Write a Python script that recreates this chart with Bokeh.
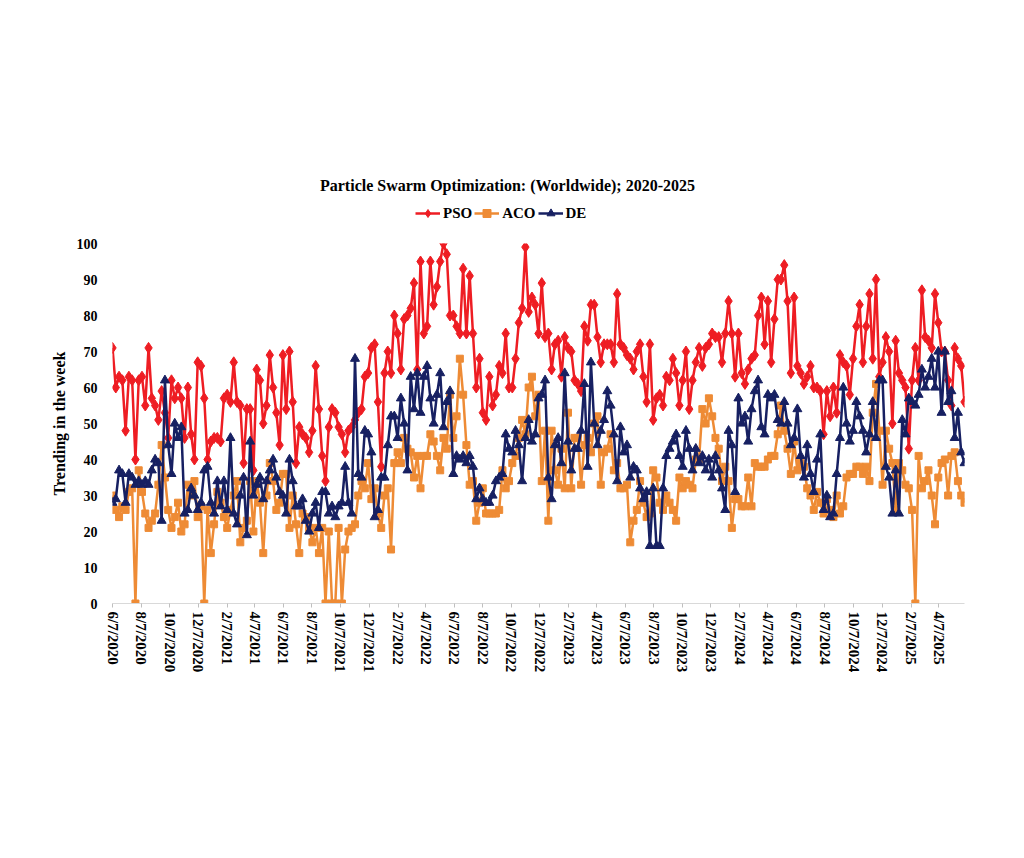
import pandas as pd
from bokeh.plotting import figure
from bokeh.layouts import column
from bokeh.models import (ColumnDataSource, Range1d, FixedTicker, CustomJSTickFormatter,
                          Legend, LegendItem, Label)
from bokeh.embed import file_html
from bokeh.resources import INLINE

# Weekly search-interest index (0-100), first week 6/7/2020
pso = [71, 60, 63, 62, 48, 63, 62, 40, 62, 63,
       55, 71, 57, 55, 51, 59, 53, 46, 62, 57,
       60, 57, 46, 60, 47, 40, 67, 66, 57, 40,
       45, 46, 46, 45, 57, 58, 56, 67, 56, 55,
       39, 54, 54, 37, 65, 62, 50, 55, 69, 60,
       53, 44, 69, 54, 70, 56, 39, 49, 47, 46,
       42, 48, 66, 54, 41, 34, 49, 54, 53, 49,
       47, 42, 48, 49, 51, 53, 54, 63, 64, 71,
       72, 56, 38, 64, 70, 64, 80, 75, 65, 79,
       80, 82, 89, 65, 95, 75, 77, 95, 83, 88,
       95, 100, 97, 80, 80, 77, 75, 93, 75, 91,
       75, 60, 68, 53, 51, 63, 55, 58, 66, 64,
       75, 60, 60, 68, 78, 82, 99, 81, 85, 83,
       75, 89, 74, 75, 65, 72, 73, 63, 74, 71,
       70, 62, 61, 59, 77, 73, 83, 83, 74, 67,
       72, 72, 72, 67, 86, 72, 71, 69, 68, 65,
       70, 72, 63, 56, 72, 51, 57, 58, 55, 63,
       62, 68, 64, 55, 62, 70, 54, 62, 67, 71,
       66, 71, 72, 75, 74, 74, 67, 75, 84, 75,
       63, 75, 64, 61, 65, 68, 69, 80, 85, 72,
       84, 67, 79, 90, 90, 94, 84, 64, 85, 66,
       64, 61, 63, 66, 60, 60, 59, 47, 59, 52,
       60, 53, 69, 67, 66, 58, 68, 77, 83, 67,
       77, 86, 68, 90, 63, 67, 74, 70, 50, 73,
       64, 62, 60, 43, 62, 71, 62, 87, 74, 73,
       71, 86, 78, 70, 70, 62, 55, 71, 68, 66,
       56]

aco = [30, 26, 24, 27, 26, 31, 32, 0, 37, 31,
       25, 21, 23, 25, 33, 44, 35, 26, 21, 24,
       28, 20, 22, 33, 30, 34, 24, 27, 0, 26,
       14, 22, 31, 28, 24, 21, 26, 30, 34, 17,
       21, 23, 34, 20, 34, 28, 14, 30, 39, 34,
       26, 28, 36, 36, 21, 30, 22, 14, 25, 24,
       21, 17, 21, 14, 21, 0, 20, 0, 0, 21,
       0, 15, 20, 21, 22, 30, 34, 32, 39, 29,
       32, 25, 21, 30, 32, 15, 39, 42, 39, 46,
       43, 42, 35, 41, 32, 41, 41, 47, 45, 41,
       37, 46, 43, 58, 46, 52, 68, 58, 44, 33,
       34, 23, 28, 32, 25, 25, 25, 25, 26, 37,
       32, 34, 39, 41, 46, 51, 47, 60, 63, 52,
       58, 34, 48, 23, 48, 37, 33, 43, 32, 53,
       32, 46, 46, 33, 44, 46, 42, 50, 52, 33,
       42, 43, 47, 37, 39, 32, 32, 33, 17, 23,
       26, 34, 28, 24, 25, 37, 35, 28, 26, 30,
       28, 26, 23, 35, 32, 34, 33, 32, 40, 40,
       54, 50, 57, 52, 46, 43, 34, 38, 34, 21,
       29, 29, 27, 27, 35, 27, 39, 38, 38, 38,
       40, 41, 41, 47, 55, 48, 43, 36, 45, 37,
       39, 38, 32, 30, 26, 31, 28, 25, 29, 26,
       24, 30, 25, 27, 35, 36, 36, 38, 38, 36,
       38, 34, 53, 61, 48, 33, 48, 43, 39, 26,
       39, 37, 33, 32, 26, 0, 41, 32, 34, 37,
       30, 22, 35, 39, 40, 30, 41, 42, 34, 30,
       28]

de = [28, 29, 37, 36, 28, 36, 35, 33, 34, 33,
      34, 33, 37, 40, 39, 23, 62, 44, 36, 50,
      46, 49, 25, 26, 32, 30, 26, 28, 37, 38,
      28, 25, 34, 27, 34, 26, 46, 25, 22, 30,
      35, 19, 45, 30, 33, 35, 29, 34, 37, 40,
      35, 31, 30, 25, 40, 34, 27, 27, 29, 23,
      20, 25, 28, 21, 31, 31, 25, 27, 24, 27,
      28, 38, 28, 25, 68, 36, 35, 48, 47, 42,
      24, 26, 35, 35, 44, 52, 52, 46, 57, 50,
      37, 63, 54, 64, 53, 63, 66, 57, 50, 58,
      64, 49, 56, 59, 36, 41, 40, 41, 39, 41,
      38, 29, 32, 29, 28, 28, 30, 34, 35, 36,
      47, 43, 42, 48, 44, 34, 46, 51, 45, 47,
      57, 58, 62, 35, 29, 44, 46, 39, 64, 45,
      37, 43, 43, 48, 61, 38, 67, 50, 44, 48,
      51, 59, 55, 47, 34, 49, 42, 44, 35, 38,
      37, 32, 29, 31, 16, 32, 16, 16, 32, 41,
      43, 45, 47, 41, 38, 48, 43, 37, 43, 39,
      41, 37, 40, 35, 41, 37, 32, 26, 48, 44,
      31, 57, 50, 52, 45, 54, 59, 62, 49, 47,
      58, 57, 58, 51, 50, 56, 50, 44, 46, 54,
      41, 35, 44, 36, 31, 40, 47, 26, 30, 24,
      25, 36, 46, 60, 50, 45, 48, 56, 52, 48,
      42, 47, 56, 46, 62, 62, 38, 35, 25, 37,
      25, 51, 47, 57, 56, 55, 58, 65, 60, 63,
      68, 60, 70, 53, 70, 56, 59, 46, 53, 42,
      39]

tick_labels = ["6/7/2020", "8/7/2020", "10/7/2020", "12/7/2020",
               "2/7/2021", "4/7/2021", "6/7/2021", "8/7/2021", "10/7/2021", "12/7/2021",
               "2/7/2022", "4/7/2022", "6/7/2022", "8/7/2022", "10/7/2022", "12/7/2022",
               "2/7/2023", "4/7/2023", "6/7/2023", "8/7/2023", "10/7/2023", "12/7/2023",
               "2/7/2024", "4/7/2024", "6/7/2024", "8/7/2024", "10/7/2024", "12/7/2024",
               "2/7/2025", "4/7/2025"]

series_names = ["PSO", "ACO", "DE"]
y_ticks = list(range(0, 101, 10))

RED = "#EE1D23"
ORANGE = "#EE8B35"
NAVY = "#172062"
SERIF = "Liberation Serif"
styles = [("pso", RED, "diamond", 11), ("aco", ORANGE, "square", 7), ("de", NAVY, "triangle", 9)]

W = 1024
FRAME_L, FRAME_R = 112, 964   # plot-area edges shared by both strips
HEAD_H = 233                  # header strip holding the title and the legend
PLOT_H = 858 - HEAD_H

weeks = pd.date_range("2020-06-07", periods=len(pso), freq="7D")
tick_ms = [int(pd.to_datetime(s, format="%m/%d/%Y").value // 10**6) for s in tick_labels]

src = ColumnDataSource(dict(week=weeks, pso=pso, aco=aco, de=de))

# ---- header: title + legend; its axes are in page pixels ----
head = figure(width=W, height=HEAD_H, x_range=Range1d(FRAME_L, FRAME_R), y_range=Range1d(0, HEAD_H),
              x_axis_location=None, y_axis_location=None,
              output_backend="svg", toolbar_location=None, min_border=0,
              min_border_left=FRAME_L, min_border_right=W - FRAME_R)
head.outline_line_color = None
head.grid.visible = False
head.background_fill_color = "white"
head.border_fill_color = "white"

head.add_layout(Label(x=507, y=HEAD_H - 185,
                      text="Particle Swarm Optimization: (Worldwide); 2020-2025",
                      text_align="center", text_baseline="middle",
                      text_font=SERIF, text_font_style="bold", text_font_size="16px",
                      text_color="black"))

# legend keys reuse the weekly series; their dates lie outside this strip's pixel range
items = []
for name, (col, color, marker, size) in zip(series_names, styles):
    key_line = head.line("week", col, source=src, line_color=color, line_width=2.5)
    key_mark = head.scatter("week", col, source=src, marker=marker, size=size,
                            fill_color=color, line_color=color)
    items.append(LegendItem(label=name, renderers=[key_line, key_mark]))

legend = Legend(items=items, orientation="horizontal",
                location=(415 - FRAME_L, HEAD_H - 223),
                glyph_width=25, glyph_height=20, label_standoff=3, spacing=2,
                padding=0, margin=0, border_line_color=None, background_fill_alpha=0,
                label_text_font=SERIF, label_text_font_style="bold",
                label_text_font_size="15px", label_text_color="black")
head.add_layout(legend)

# ---- main chart ----
p = figure(width=W, height=PLOT_H, x_axis_type="datetime",
           x_range=Range1d(weeks[0], weeks[-1]), y_range=Range1d(0, 100),
           output_backend="svg", toolbar_location=None,
           min_border_left=FRAME_L, min_border_right=W - FRAME_R,
           min_border_top=243 - HEAD_H, min_border_bottom=255)
p.outline_line_color = None
p.background_fill_color = "white"
p.border_fill_color = "white"
p.xgrid.visible = False
p.ygrid.visible = False

# value axis
p.yaxis.ticker = FixedTicker(ticks=y_ticks)
p.yaxis.axis_line_color = None
p.yaxis.major_tick_line_color = None
p.yaxis.minor_tick_line_color = None
p.yaxis.major_label_text_font = SERIF
p.yaxis.major_label_text_font_style = "bold"
p.yaxis.major_label_text_font_size = "14px"
p.yaxis.major_label_text_color = "black"
p.yaxis.major_label_standoff = 9
p.yaxis.axis_label = "Trending in the week"
p.yaxis.axis_label_text_font = SERIF
p.yaxis.axis_label_text_font_style = "bold"
p.yaxis.axis_label_text_font_size = "16px"
p.yaxis.axis_label_text_color = "black"
p.yaxis.axis_label_standoff = 6

# date axis
p.xaxis.ticker = FixedTicker(ticks=tick_ms)
p.xaxis.formatter = CustomJSTickFormatter(code="""
    const d = new Date(tick);
    return (d.getUTCMonth() + 1) + "/" + d.getUTCDate() + "/" + d.getUTCFullYear();
""")
p.xaxis.major_label_orientation = "vertical"
p.xaxis.axis_line_color = "#D9D9D9"
p.xaxis.axis_line_width = 1
p.xaxis.major_tick_line_color = "#BFBFBF"
p.xaxis.major_tick_out = 4
p.xaxis.major_tick_in = 0
p.xaxis.minor_tick_line_color = None
p.xaxis.major_label_text_font = SERIF
p.xaxis.major_label_text_font_style = "bold"
p.xaxis.major_label_text_font_size = "15px"
p.xaxis.major_label_text_color = "black"
p.xaxis.major_label_standoff = 4

for col, color, marker, size in styles:
    p.line("week", col, source=src, line_color=color, line_width=2.5)
    p.scatter("week", col, source=src, marker=marker, size=size,
              fill_color=color, line_color=color)

layout = column(head, p, spacing=0)
open("out.html", "w").write(file_html(layout, INLINE))
